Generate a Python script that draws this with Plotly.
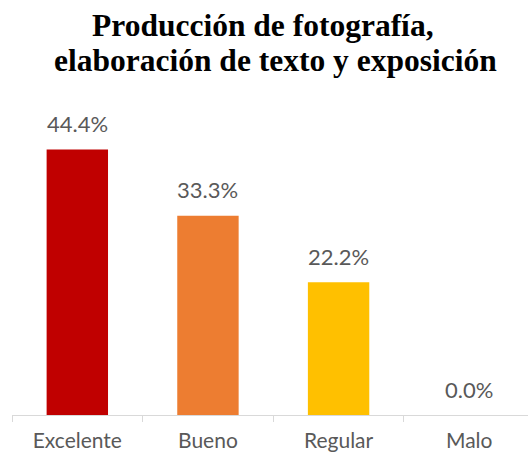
import plotly.graph_objects as go

categories = ["Excelente", "Bueno", "Regular", "Malo"]
values = [44.4, 33.3, 22.2, 0.0]
colors = ["#C00000", "#ED7D31", "#FFC000", "#A5A5A5"]
title_lines = ["Producción de fotografía,", "elaboración de texto y exposición"]

fig = go.Figure()
fig.add_trace(go.Bar(
    x=categories, y=values,
    marker=dict(color=colors, line=dict(width=0)),
    hoverinfo="skip",
))

for c, v in zip(categories, values):
    fig.add_annotation(
        x=c, y=v, xref="x", yref="y", text=f"{v:.1f}%",
        showarrow=False, yanchor="middle", yshift=26,
        font=dict(family="Lato, Open Sans, sans-serif", size=22, color="#595959"),
    )

# title: two lines placed separately (paper coords)
for line, tx, ty in zip(title_lines, [0.4855, 0.5116], [1.302, 1.186]):
    fig.add_annotation(
        x=tx, y=ty, xref="paper", yref="paper",
        text="<b>" + line + "</b>",
        showarrow=False, xanchor="center", yanchor="middle",
        font=dict(family="Liberation Serif, Times New Roman, serif", size=31.5, color="black"),
    )

fig.update_layout(
    width=528, height=458,
    margin=dict(l=12, r=0, t=116, b=43, autoexpand=False),
    paper_bgcolor="white", plot_bgcolor="white",
    bargap=0.53,
    showlegend=False,
    font=dict(family="Lato, Open Sans, sans-serif"),
)
fig.update_xaxes(
    range=[-0.5, 3.45], automargin=False,
    showline=True, linecolor="#D9D9D9", linewidth=1.3,
    ticks="outside", tickson="boundaries", ticklen=6, tickcolor="#D9D9D9", tickwidth=1.3,
    ticklabelstandoff=7,
    tickfont=dict(family="Lato, Open Sans, sans-serif", size=21, color="#595959"),
    showgrid=False, zeroline=False,
)
fig.update_yaxes(range=[0, 50], visible=False, showgrid=False, zeroline=False, automargin=False)

fig.write_html("out.html", config={"displayModeBar": False},
               post_script="document.body.style.margin='0';")
